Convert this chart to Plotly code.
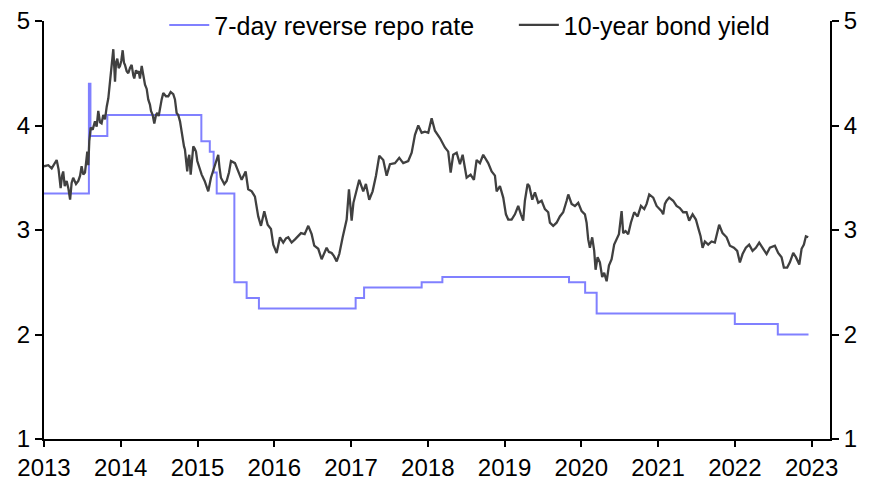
import plotly.graph_objects as go

# ---- data ----
years = [2013, 2014, 2015, 2016, 2017, 2018, 2019, 2020, 2021, 2022, 2023]
year_labels = [str(y) for y in years]
y_ticks = [1, 2, 3, 4, 5]
series_names = ["7-day reverse repo rate", "10-year bond yield"]

repo_t = [2013.00, 2013.585, 2013.605, 2013.825, 2015.05, 2015.16, 2015.21, 2015.25,
          2015.48, 2015.64, 2015.80, 2017.06, 2017.17, 2017.92, 2018.19, 2019.84,
          2020.05, 2020.20, 2022.00, 2022.56, 2022.96]
repo_v = [3.35, 4.40, 3.90, 4.10, 3.85, 3.75, 3.55, 3.35,
          2.50, 2.35, 2.25, 2.35, 2.45, 2.50, 2.55, 2.50,
          2.40, 2.20, 2.10, 2.00, 2.00]

bond_t = [2013.000, 2013.056, 2013.100, 2013.165, 2013.190, 2013.217, 2013.235, 2013.250,
          2013.270, 2013.295, 2013.317, 2013.340, 2013.360, 2013.380, 2013.417, 2013.447,
          2013.470, 2013.490, 2013.512, 2013.534, 2013.564, 2013.577, 2013.590, 2013.608,
          2013.634, 2013.664, 2013.686, 2013.707, 2013.730, 2013.750, 2013.772, 2013.795,
          2013.817, 2013.838, 2013.860, 2013.882, 2013.903, 2013.916, 2013.925, 2013.938,
          2013.955, 2013.973, 2013.990, 2014.007, 2014.025, 2014.042, 2014.055, 2014.077,
          2014.098, 2014.120, 2014.142, 2014.163, 2014.176, 2014.198, 2014.215, 2014.233,
          2014.250, 2014.273, 2014.293, 2014.316, 2014.338, 2014.358, 2014.380, 2014.394,
          2014.416, 2014.437, 2014.459, 2014.476, 2014.494, 2014.511, 2014.533, 2014.554,
          2014.589, 2014.619, 2014.650, 2014.684, 2014.706, 2014.728, 2014.749, 2014.772,
          2014.788, 2014.807, 2014.824, 2014.836, 2014.850, 2014.866, 2014.880, 2014.893,
          2014.911, 2014.928, 2014.945, 2014.963, 2014.980, 2014.997, 2015.010, 2015.054,
          2015.093, 2015.140, 2015.175, 2015.227, 2015.270, 2015.286, 2015.305, 2015.349,
          2015.380, 2015.410, 2015.436, 2015.488, 2015.530, 2015.575, 2015.627, 2015.660,
          2015.706, 2015.748, 2015.791, 2015.827, 2015.870, 2015.914, 2015.957, 2015.987,
          2016.031, 2016.074, 2016.117, 2016.152, 2016.182, 2016.226, 2016.270, 2016.309,
          2016.348, 2016.396, 2016.443, 2016.487, 2016.521, 2016.573, 2016.617, 2016.682,
          2016.712, 2016.748, 2016.778, 2016.813, 2016.847, 2016.891, 2016.943, 2016.973,
          2017.008, 2017.031, 2017.060, 2017.107, 2017.159, 2017.194, 2017.237, 2017.281,
          2017.325, 2017.368, 2017.420, 2017.464, 2017.507, 2017.572, 2017.628, 2017.680,
          2017.745, 2017.790, 2017.833, 2017.876, 2017.920, 2017.963, 2018.006, 2018.050,
          2018.093, 2018.158, 2018.223, 2018.266, 2018.298, 2018.331, 2018.376, 2018.419,
          2018.454, 2018.506, 2018.558, 2018.601, 2018.636, 2018.679, 2018.722, 2018.787,
          2018.832, 2018.875, 2018.897, 2018.940, 2018.983, 2019.018, 2019.048, 2019.092,
          2019.135, 2019.178, 2019.213, 2019.243, 2019.265, 2019.300, 2019.322, 2019.361,
          2019.396, 2019.439, 2019.483, 2019.526, 2019.569, 2019.591, 2019.634, 2019.678,
          2019.721, 2019.764, 2019.809, 2019.830, 2019.874, 2019.917, 2019.960, 2020.004,
          2020.047, 2020.069, 2020.090, 2020.112, 2020.142, 2020.168, 2020.186, 2020.212,
          2020.242, 2020.272, 2020.298, 2020.330, 2020.360, 2020.395, 2020.428, 2020.460,
          2020.490, 2020.525, 2020.546, 2020.577, 2020.611, 2020.646, 2020.689, 2020.734,
          2020.777, 2020.820, 2020.851, 2020.885, 2020.937, 2020.981, 2021.046, 2021.067,
          2021.089, 2021.111, 2021.145, 2021.197, 2021.241, 2021.284, 2021.327, 2021.371,
          2021.405, 2021.450, 2021.493, 2021.523, 2021.554, 2021.580, 2021.610, 2021.653,
          2021.697, 2021.740, 2021.770, 2021.796, 2021.840, 2021.893, 2021.936, 2021.988,
          2022.031, 2022.066, 2022.101, 2022.144, 2022.187, 2022.231, 2022.274, 2022.318,
          2022.370, 2022.414, 2022.457, 2022.522, 2022.565, 2022.609, 2022.639, 2022.682,
          2022.717, 2022.761, 2022.796, 2022.840, 2022.870, 2022.900, 2022.926, 2022.956]
bond_v = [3.61, 3.62, 3.59, 3.67, 3.58, 3.40, 3.52, 3.56,
          3.42, 3.47, 3.40, 3.29, 3.45, 3.50, 3.44, 3.47,
          3.52, 3.61, 3.53, 3.55, 3.75, 3.62, 3.85, 3.98,
          3.96, 4.04, 3.99, 4.14, 4.03, 4.02, 4.10, 4.06,
          4.18, 4.26, 4.42, 4.58, 4.73, 4.55, 4.42, 4.60,
          4.64, 4.55, 4.57, 4.62, 4.72, 4.60, 4.58, 4.52,
          4.50, 4.55, 4.58, 4.48, 4.45, 4.53, 4.50, 4.52,
          4.45, 4.57, 4.48, 4.39, 4.35, 4.25, 4.20, 4.14,
          4.10, 4.02, 4.10, 4.12, 4.09, 4.17, 4.25, 4.31,
          4.28, 4.28, 4.32, 4.30, 4.25, 4.12, 4.10, 4.04,
          3.95, 3.85, 3.80, 3.77, 3.65, 3.56, 3.68, 3.72,
          3.53, 3.70, 3.80, 3.78, 3.75, 3.66, 3.63, 3.53,
          3.47, 3.37, 3.50, 3.61, 3.72, 3.60, 3.50, 3.44,
          3.47, 3.55, 3.66, 3.64, 3.56, 3.48, 3.56, 3.39,
          3.37, 3.32, 3.13, 3.04, 3.18, 3.05, 3.01, 2.86,
          2.78, 2.93, 2.88, 2.92, 2.93, 2.88, 2.91, 2.94,
          2.97, 2.96, 3.04, 2.96, 2.85, 2.82, 2.72, 2.83,
          2.79, 2.78, 2.75, 2.70, 2.77, 2.93, 3.10, 3.39,
          3.09, 3.26, 3.34, 3.48, 3.37, 3.44, 3.29, 3.37,
          3.52, 3.71, 3.67, 3.52, 3.63, 3.64, 3.69, 3.64,
          3.66, 3.74, 3.91, 4.00, 3.93, 3.94, 3.93, 4.07,
          3.95, 3.88, 3.79, 3.75, 3.55, 3.72, 3.74, 3.63,
          3.72, 3.50, 3.53, 3.48, 3.67, 3.64, 3.72, 3.64,
          3.56, 3.52, 3.37, 3.42, 3.31, 3.15, 3.10, 3.10,
          3.15, 3.23, 3.15, 3.09, 3.28, 3.44, 3.42, 3.29,
          3.36, 3.26, 3.28, 3.20, 3.17, 3.07, 3.04, 3.07,
          3.13, 3.17, 3.28, 3.34, 3.25, 3.23, 3.26, 3.18,
          3.15, 3.07, 2.91, 2.83, 2.93, 2.80, 2.62, 2.74,
          2.69, 2.55, 2.59, 2.51, 2.66, 2.72, 2.86, 2.91,
          2.96, 3.18, 2.97, 2.99, 2.96, 3.07, 3.17, 3.13,
          3.23, 3.20, 3.25, 3.34, 3.31, 3.23, 3.18, 3.15,
          3.25, 3.28, 3.31, 3.28, 3.23, 3.21, 3.17, 3.17,
          3.09, 3.15, 3.10, 3.02, 2.94, 2.83, 2.89, 2.86,
          2.89, 2.88, 2.96, 3.05, 2.97, 2.93, 2.85, 2.83,
          2.80, 2.69, 2.77, 2.83, 2.86, 2.80, 2.83, 2.88,
          2.82, 2.77, 2.83, 2.85, 2.78, 2.74, 2.64, 2.64,
          2.69, 2.78, 2.74, 2.67, 2.82, 2.86, 2.94, 2.93]

FONT = "Liberation Sans, Arial, sans-serif"

fig = go.Figure()
fig.add_trace(go.Scatter(x=repo_t, y=repo_v, mode="lines", line_shape="hv",
                         name=series_names[0] + "\u00a0" * 5,
                         line=dict(color="#8080ff", width=2)))
fig.add_trace(go.Scatter(x=bond_t, y=bond_v, mode="lines",
                         name=series_names[1], yaxis="y2",
                         line=dict(color="#404040", width=2.3)))

axis_common = dict(range=[1, 5], tickvals=y_ticks, ticks="outside", ticklen=7,
                   tickwidth=2, tickcolor="black", showline=True, linewidth=2,
                   linecolor="black", showgrid=False, zeroline=False,
                   ticklabeloverflow="allow",
                   tickfont=dict(family=FONT, size=24, color="black"))

# the page body adds an 8px offset, so the figure is sized to fit the window
fig.update_layout(
    width=866, height=474,
    margin=dict(l=36, r=44, t=13, b=43, autoexpand=False),
    paper_bgcolor="white", plot_bgcolor="white",
    showlegend=True,
    legend=dict(orientation="h", x=0.153, xanchor="left", y=0.99, yanchor="middle",
                bgcolor="rgba(0,0,0,0)", font=dict(family=FONT, size=25, color="black"),
                itemwidth=40),
    xaxis=dict(range=[2013, 2023.24], tickmode="array", tickvals=years, ticktext=year_labels,
               ticks="outside", ticklen=6, tickwidth=2, tickcolor="black",
               showline=True, linewidth=2, linecolor="black", showgrid=False, zeroline=False,
               ticklabeloverflow="allow",
               tickfont=dict(family=FONT, size=24, color="black")),
    yaxis=dict(side="left", **axis_common),
    yaxis2=dict(side="right", overlaying="y", **axis_common),
)

fig.write_html("out.html")
